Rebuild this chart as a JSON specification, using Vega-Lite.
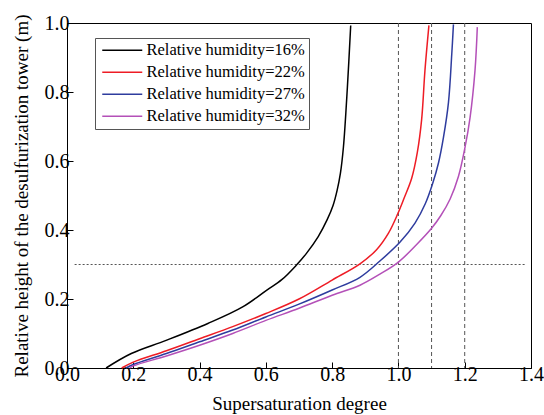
{
  "$schema": "https://vega.github.io/schema/vega-lite/v6.json",
  "width": 464,
  "height": 345,
  "autosize": "none",
  "padding": {"left": 67, "top": 23, "right": 13, "bottom": 47},
  "background": "white",
  "config": {
    "view": {"stroke": "black", "strokeWidth": 1},
    "font": "Liberation Serif, DejaVu Serif, serif"
  },
  "datasets": {
    "curves": [
      {"series": "Relative humidity=16%", "x": 0.118, "y": 0},
      {"series": "Relative humidity=16%", "x": 0.194, "y": 0.042},
      {"series": "Relative humidity=16%", "x": 0.299, "y": 0.080},
      {"series": "Relative humidity=16%", "x": 0.425, "y": 0.129},
      {"series": "Relative humidity=16%", "x": 0.53, "y": 0.177},
      {"series": "Relative humidity=16%", "x": 0.603, "y": 0.226},
      {"series": "Relative humidity=16%", "x": 0.648, "y": 0.256},
      {"series": "Relative humidity=16%", "x": 0.691, "y": 0.297},
      {"series": "Relative humidity=16%", "x": 0.723, "y": 0.333},
      {"series": "Relative humidity=16%", "x": 0.758, "y": 0.381},
      {"series": "Relative humidity=16%", "x": 0.785, "y": 0.43},
      {"series": "Relative humidity=16%", "x": 0.803, "y": 0.472},
      {"series": "Relative humidity=16%", "x": 0.815, "y": 0.515},
      {"series": "Relative humidity=16%", "x": 0.825, "y": 0.565},
      {"series": "Relative humidity=16%", "x": 0.834, "y": 0.64},
      {"series": "Relative humidity=16%", "x": 0.846, "y": 0.814},
      {"series": "Relative humidity=16%", "x": 0.856, "y": 0.993},
      {"series": "Relative humidity=22%", "x": 0.165, "y": 0},
      {"series": "Relative humidity=22%", "x": 0.2, "y": 0.017},
      {"series": "Relative humidity=22%", "x": 0.3, "y": 0.05},
      {"series": "Relative humidity=22%", "x": 0.4, "y": 0.085},
      {"series": "Relative humidity=22%", "x": 0.5, "y": 0.12},
      {"series": "Relative humidity=22%", "x": 0.6, "y": 0.158},
      {"series": "Relative humidity=22%", "x": 0.7, "y": 0.2},
      {"series": "Relative humidity=22%", "x": 0.8, "y": 0.255},
      {"series": "Relative humidity=22%", "x": 0.884, "y": 0.302},
      {"series": "Relative humidity=22%", "x": 0.934, "y": 0.343},
      {"series": "Relative humidity=22%", "x": 0.97, "y": 0.391},
      {"series": "Relative humidity=22%", "x": 0.998, "y": 0.447},
      {"series": "Relative humidity=22%", "x": 1.017, "y": 0.492},
      {"series": "Relative humidity=22%", "x": 1.04, "y": 0.55},
      {"series": "Relative humidity=22%", "x": 1.057, "y": 0.625},
      {"series": "Relative humidity=22%", "x": 1.07, "y": 0.72},
      {"series": "Relative humidity=22%", "x": 1.08, "y": 0.862},
      {"series": "Relative humidity=22%", "x": 1.092, "y": 0.993},
      {"series": "Relative humidity=27%", "x": 0.178, "y": 0},
      {"series": "Relative humidity=27%", "x": 0.2, "y": 0.01},
      {"series": "Relative humidity=27%", "x": 0.3, "y": 0.042},
      {"series": "Relative humidity=27%", "x": 0.4, "y": 0.076},
      {"series": "Relative humidity=27%", "x": 0.5, "y": 0.11},
      {"series": "Relative humidity=27%", "x": 0.6, "y": 0.148},
      {"series": "Relative humidity=27%", "x": 0.7, "y": 0.185},
      {"series": "Relative humidity=27%", "x": 0.8, "y": 0.226},
      {"series": "Relative humidity=27%", "x": 0.884, "y": 0.263},
      {"series": "Relative humidity=27%", "x": 0.944, "y": 0.31},
      {"series": "Relative humidity=27%", "x": 1.005, "y": 0.365},
      {"series": "Relative humidity=27%", "x": 1.05, "y": 0.42},
      {"series": "Relative humidity=27%", "x": 1.081, "y": 0.476},
      {"series": "Relative humidity=27%", "x": 1.103, "y": 0.534},
      {"series": "Relative humidity=27%", "x": 1.121, "y": 0.595},
      {"series": "Relative humidity=27%", "x": 1.136, "y": 0.669},
      {"series": "Relative humidity=27%", "x": 1.151, "y": 0.77},
      {"series": "Relative humidity=27%", "x": 1.161, "y": 0.911},
      {"series": "Relative humidity=27%", "x": 1.166, "y": 0.996},
      {"series": "Relative humidity=32%", "x": 0.189, "y": 0},
      {"series": "Relative humidity=32%", "x": 0.2, "y": 0.006},
      {"series": "Relative humidity=32%", "x": 0.3, "y": 0.035},
      {"series": "Relative humidity=32%", "x": 0.4, "y": 0.066},
      {"series": "Relative humidity=32%", "x": 0.5, "y": 0.1},
      {"series": "Relative humidity=32%", "x": 0.6, "y": 0.138},
      {"series": "Relative humidity=32%", "x": 0.7, "y": 0.173},
      {"series": "Relative humidity=32%", "x": 0.8, "y": 0.211},
      {"series": "Relative humidity=32%", "x": 0.884, "y": 0.24},
      {"series": "Relative humidity=32%", "x": 0.944, "y": 0.272},
      {"series": "Relative humidity=32%", "x": 1.0, "y": 0.307},
      {"series": "Relative humidity=32%", "x": 1.055, "y": 0.358},
      {"series": "Relative humidity=32%", "x": 1.1, "y": 0.405},
      {"series": "Relative humidity=32%", "x": 1.128, "y": 0.442},
      {"series": "Relative humidity=32%", "x": 1.156, "y": 0.49},
      {"series": "Relative humidity=32%", "x": 1.181, "y": 0.555},
      {"series": "Relative humidity=32%", "x": 1.201, "y": 0.64},
      {"series": "Relative humidity=32%", "x": 1.216, "y": 0.725},
      {"series": "Relative humidity=32%", "x": 1.231, "y": 0.862},
      {"series": "Relative humidity=32%", "x": 1.238, "y": 0.988}
    ],
    "vlines": [{"x": 1.0}, {"x": 1.1}, {"x": 1.2}],
    "hlines": [{"x": 0.023, "x2": 1.385, "y": 0.3}]
  },
  "layer": [
    {
      "data": {"name": "vlines"},
      "mark": {"type": "rule", "color": "#555555", "strokeWidth": 1, "strokeDash": [4, 3]},
      "encoding": {
        "x": {"field": "x", "type": "quantitative"}
      }
    },
    {
      "data": {"name": "hlines"},
      "mark": {"type": "rule", "color": "#555555", "strokeWidth": 1, "strokeDash": [2, 2]},
      "encoding": {
        "x": {"field": "x", "type": "quantitative"},
        "x2": {"field": "x2"},
        "y": {"field": "y", "type": "quantitative"}
      }
    },
    {
      "data": {"name": "curves"},
      "mark": {"type": "line", "strokeWidth": 1.5, "interpolate": "catmull-rom"},
      "encoding": {
        "x": {
          "field": "x", "type": "quantitative",
          "scale": {"domain": [0, 1.4], "nice": false, "zero": false},
          "axis": {
            "title": "Supersaturation degree",
            "values": [0, 0.1, 0.2, 0.3, 0.4, 0.5, 0.6, 0.7, 0.8, 0.9, 1.0, 1.1, 1.2, 1.3, 1.4],
            "labelExpr": "round(datum.value*10)%2==0 ? format(datum.value,'.1f') : ''",
            "tickSize": {"condition": {"test": "round(datum.value*10)%2==1", "value": -3}, "value": -6},
            "tickColor": "black", "domainColor": "black", "grid": false,
            "labelFont": "Liberation Serif, DejaVu Serif, serif", "labelFontSize": 20, "labelColor": "black",
            "labelPadding": 2, "labelFlush": false,
            "titleFont": "Liberation Serif, DejaVu Serif, serif", "titleFontSize": 19, "titleFontWeight": "normal", "titleColor": "black",
            "titlePadding": 10
          }
        },
        "y": {
          "field": "y", "type": "quantitative",
          "scale": {"domain": [0, 1], "nice": false},
          "axis": {
            "title": "Relative height of the desulfurization tower (m)",
            "values": [0, 0.1, 0.2, 0.3, 0.4, 0.5, 0.6, 0.7, 0.8, 0.9, 1.0],
            "labelExpr": "round(datum.value*10)%2==0 ? format(datum.value,'.1f') : ''",
            "tickSize": {"condition": {"test": "round(datum.value*10)%2==1", "value": -3}, "value": -6},
            "tickColor": "black", "domainColor": "black", "grid": false,
            "labelFont": "Liberation Serif, DejaVu Serif, serif", "labelFontSize": 20, "labelColor": "black",
            "labelPadding": 4, "labelFlush": false,
            "titleFont": "Liberation Serif, DejaVu Serif, serif", "titleFontSize": 19, "titleFontWeight": "normal", "titleColor": "black",
            "titleAngle": -90,
            "titleX": -46,
            "titleY": 172.5,
            "titleAlign": "center",
            "titleBaseline": "middle"
          }
        },
        "order": {"field": "y", "type": "quantitative"},
        "color": {
          "field": "series", "type": "nominal",
          "scale": {
            "domain": ["Relative humidity=16%", "Relative humidity=22%", "Relative humidity=27%", "Relative humidity=32%"],
            "range": ["#000000", "#ee1c25", "#2e3c9e", "#b450b8"]
          },
          "legend": {
            "title": null,
            "orient": "none",
            "legendX": 28,
            "legendY": 15,
            "symbolType": "M-1,0H7",
            "symbolSize": 100,
            "symbolStrokeWidth": 1.5,
            "symbolFillColor": "transparent",
            "labelFont": "Liberation Serif, DejaVu Serif, serif",
            "labelFontSize": 16.5,
            "labelColor": "black",
            "labelLimit": 300,
            "labelOffset": 31,
            "rowPadding": 5,
            "padding": 4,
            "strokeColor": "#555555",
            "fillColor": "white"
          }
        }
      }
    }
  ]
}
